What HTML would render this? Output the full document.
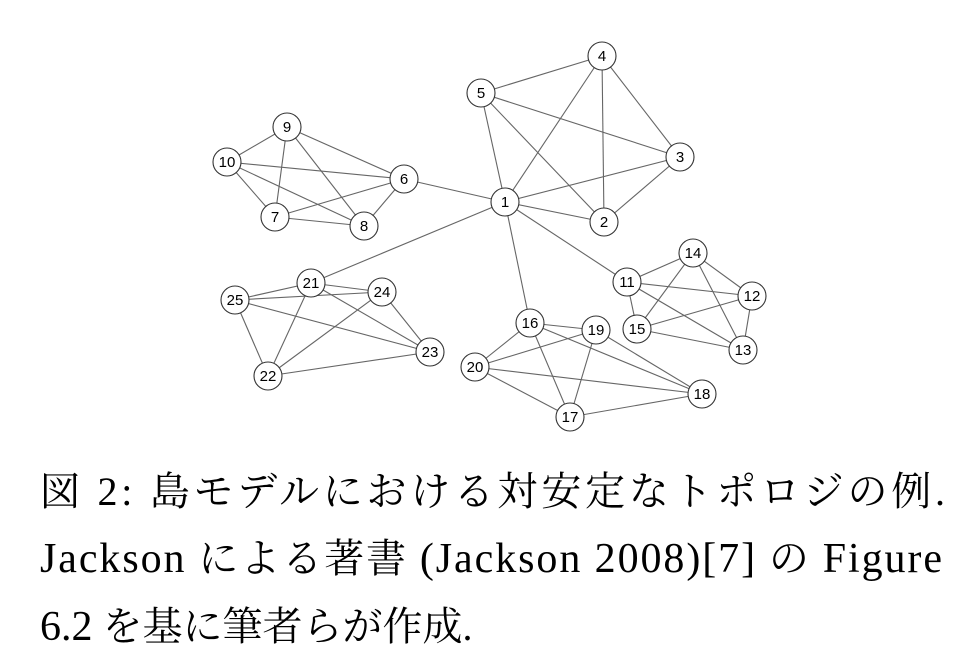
<!DOCTYPE html>
<html><head><meta charset="utf-8"><style>html,body{margin:0;padding:0;background:#fff}svg{display:block}
.cap{font-family:"Liberation Serif","Noto Serif CJK JP","Noto Serif CJK SC",serif;font-size:40px;fill:#000}
.lab{font-family:"Liberation Sans",sans-serif;font-size:15px;fill:#000}</style></head><body>
<svg width="972" height="670" xmlns="http://www.w3.org/2000/svg">
<g stroke="#666" stroke-width="1.1" fill="none">
<line x1="505" y1="202" x2="602" y2="56"/><line x1="505" y1="202" x2="481" y2="93"/><line x1="505" y1="202" x2="680" y2="157"/><line x1="505" y1="202" x2="604" y2="222"/>
<line x1="602" y1="56" x2="481" y2="93"/><line x1="602" y1="56" x2="680" y2="157"/><line x1="602" y1="56" x2="604" y2="222"/>
<line x1="481" y1="93" x2="680" y2="157"/><line x1="481" y1="93" x2="604" y2="222"/><line x1="680" y1="157" x2="604" y2="222"/>
<line x1="505" y1="202" x2="404" y2="179"/><line x1="505" y1="202" x2="311" y2="283"/><line x1="505" y1="202" x2="530" y2="323"/><line x1="505" y1="202" x2="627" y2="282"/>
<line x1="287" y1="127" x2="227" y2="162"/><line x1="287" y1="127" x2="404" y2="179"/><line x1="287" y1="127" x2="275" y2="217"/><line x1="287" y1="127" x2="364" y2="226"/>
<line x1="227" y1="162" x2="404" y2="179"/><line x1="227" y1="162" x2="275" y2="217"/><line x1="227" y1="162" x2="364" y2="226"/>
<line x1="404" y1="179" x2="275" y2="217"/><line x1="404" y1="179" x2="364" y2="226"/><line x1="275" y1="217" x2="364" y2="226"/>
<line x1="311" y1="283" x2="235" y2="300"/><line x1="311" y1="283" x2="382" y2="292"/><line x1="311" y1="283" x2="430" y2="352"/><line x1="311" y1="283" x2="268" y2="376"/>
<line x1="235" y1="300" x2="382" y2="292"/><line x1="235" y1="300" x2="430" y2="352"/><line x1="235" y1="300" x2="268" y2="376"/>
<line x1="382" y1="292" x2="430" y2="352"/><line x1="382" y1="292" x2="268" y2="376"/><line x1="268" y1="376" x2="430" y2="352"/>
<line x1="627" y1="282" x2="693" y2="253"/><line x1="627" y1="282" x2="752" y2="296"/><line x1="627" y1="282" x2="743" y2="350"/><line x1="627" y1="282" x2="637" y2="329"/>
<line x1="693" y1="253" x2="752" y2="296"/><line x1="693" y1="253" x2="743" y2="350"/><line x1="693" y1="253" x2="637" y2="329"/>
<line x1="752" y1="296" x2="637" y2="329"/><line x1="752" y1="296" x2="743" y2="350"/><line x1="637" y1="329" x2="743" y2="350"/>
<line x1="530" y1="323" x2="596" y2="330"/><line x1="530" y1="323" x2="475" y2="367"/><line x1="530" y1="323" x2="570" y2="417"/><line x1="530" y1="323" x2="702" y2="394"/>
<line x1="596" y1="330" x2="475" y2="367"/><line x1="596" y1="330" x2="570" y2="417"/><line x1="596" y1="330" x2="702" y2="394"/>
<line x1="475" y1="367" x2="702" y2="394"/><line x1="475" y1="367" x2="570" y2="417"/><line x1="570" y1="417" x2="702" y2="394"/>
</g>
<g fill="#fff" stroke="#333" stroke-width="1.1">
<circle cx="505" cy="202" r="14"/><circle cx="604" cy="222" r="14"/><circle cx="680" cy="157" r="14"/><circle cx="602" cy="56" r="14"/><circle cx="481" cy="93" r="14"/>
<circle cx="404" cy="179" r="14"/><circle cx="275" cy="217" r="14"/><circle cx="364" cy="226" r="14"/><circle cx="287" cy="127" r="14"/><circle cx="227" cy="162" r="14"/>
<circle cx="627" cy="282" r="14"/><circle cx="752" cy="296" r="14"/><circle cx="743" cy="350" r="14"/><circle cx="693" cy="253" r="14"/><circle cx="637" cy="329" r="14"/>
<circle cx="530" cy="323" r="14"/><circle cx="570" cy="417" r="14"/><circle cx="702" cy="394" r="14"/><circle cx="596" cy="330" r="14"/><circle cx="475" cy="367" r="14"/>
<circle cx="311" cy="283" r="14"/><circle cx="268" cy="376" r="14"/><circle cx="430" cy="352" r="14"/><circle cx="382" cy="292" r="14"/><circle cx="235" cy="300" r="14"/>
</g>
<g class="lab" text-anchor="middle">
<text x="505" y="207">1</text><text x="604" y="227">2</text><text x="680" y="162">3</text><text x="602" y="61">4</text><text x="481" y="98">5</text>
<text x="404" y="184">6</text><text x="275" y="222">7</text><text x="364" y="231">8</text><text x="287" y="132">9</text><text x="227" y="167">10</text>
<text x="627" y="287">11</text><text x="752" y="301">12</text><text x="743" y="355">13</text><text x="693" y="258">14</text><text x="637" y="334">15</text>
<text x="530" y="328">16</text><text x="570" y="422">17</text><text x="702" y="399">18</text><text x="596" y="335">19</text><text x="475" y="372">20</text>
<text x="311" y="288">21</text><text x="268" y="381">22</text><text x="430" y="357">23</text><text x="382" y="297">24</text><text x="235" y="305">25</text>
</g>
<g class="cap">
<text x="40" y="505" textLength="905" lengthAdjust="spacing">図 2:  島モデルにおける対安定なトポロジの例.</text>
<text x="40" y="572" textLength="902" lengthAdjust="spacing"><tspan font-size="42">Jackson</tspan> による著書 <tspan font-size="42">(Jackson 2008)[7]</tspan> の <tspan font-size="42">Figure</tspan></text>
<text x="40" y="640"><tspan font-size="42">6.2</tspan> を基に筆者らが作成.</text>
</g>
</svg>
</body></html>
